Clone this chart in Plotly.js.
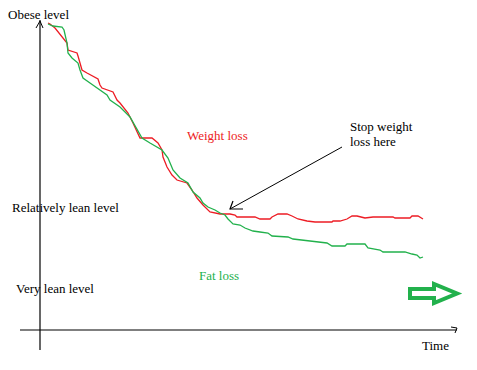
<!DOCTYPE html>
<html>
<head>
<meta charset="utf-8">
<script src="https://cdn.plot.ly/plotly-3.0.1.min.js"></script>
<style>html,body{margin:0;padding:0;background:#fff}#chart{width:477px;height:370px}</style>
</head>
<body>
<div id="chart"></div>
<script>
// Time (arbitrary units) and body level (arbitrary units above time axis)
const weightTime = [8,10,15,22,27,28,37,38,40,42,47,58,60,62,73,75,77,80,88,93,100,112,118,122,123,127,132,137,147,152,157,163,170,180,190,195,197,215,220,230,232,238,247,252,258,267,275,292,293,300,307,312,317,325,333,353,355,370,372,378,383];
const weightLevel = [307,306,302,293,287,280,277,274,267,260,257,251,245,242,238,233,230,227,217,207,192,192,187,180,173,163,155,150,147,140,132,125,118,116,116,115,113,113,111,111,113,116,116,114,111,109,108,108,109,109,111,114,114,112,113,113,112,112,114,114,111];
const fatTime = [8,13,22,24,27,28,32,38,40,43,50,60,67,70,80,90,97,102,110,122,128,133,140,148,153,160,163,168,175,180,185,188,193,200,205,213,220,228,232,248,253,273,287,292,305,307,325,328,340,343,365,372,377,380,383];
const fatLevel = [306,304,303,300,287,277,272,267,260,252,247,240,235,230,223,213,200,192,187,180,172,160,152,147,138,132,127,123,120,117,115,111,106,105,102,99,98,97,94,93,91,89,87,84,84,86,86,82,80,78,78,76,75,72,73];
const levelLabels = ["Obese level","Relatively lean level","Very lean level"];

const RED = "#ed1c24", GREEN = "#22b14c";
const serif = "Liberation Serif, Times New Roman, serif";

const traces = [
  {x: weightTime, y: weightLevel, mode: "lines", line: {color: RED, width: 1.3}, hoverinfo: "skip"},
  {x: fatTime, y: fatLevel, mode: "lines", line: {color: GREEN, width: 1.3}, hoverinfo: "skip"}
];

function txt(x, y, text, color) {
  return {x: x, y: y, xref: "x", yref: "y", text: text, showarrow: false,
          xanchor: "left", yanchor: "middle", font: {family: serif, size: 13, color: color || "#000"}};
}

const layout = {
  width: 477, height: 370,
  margin: {l: 0, r: 0, t: 0, b: 0},
  paper_bgcolor: "#fff", plot_bgcolor: "#fff",
  showlegend: false,
  xaxis: {range: [-40, 437], visible: false, fixedrange: true},
  yaxis: {range: [-40, 330], visible: false, fixedrange: true},
  shapes: [
    // axes
    {type: "line", xref: "x", yref: "y", x0: 0, y0: -20, x1: 0, y1: 310, line: {color: "#000", width: 1.2}},
    {type: "line", xref: "x", yref: "y", x0: -20, y0: 0, x1: 417, y1: 0, line: {color: "#000", width: 1.2}},
    {type: "path", xref: "x", yref: "y", path: "M -4,302 L 0,309 L 3,302", line: {color: "#000", width: 1}},
    {type: "path", xref: "x", yref: "y", path: "M 411,3 L 417,2 L 415,-3", line: {color: "#000", width: 1}},
    // pointer arrow
    {type: "line", xref: "x", yref: "y", x0: 302, y0: 183, x1: 190, y1: 121, line: {color: "#000", width: 1}},
    {type: "path", xref: "x", yref: "y", path: "M 193,129 L 190,121 L 203,121", line: {color: "#000", width: 1.2}},
    // hollow green arrow
    {type: "path", xref: "x", yref: "y", path: "M 370,41 L 394,41 L 394,46 L 417,36.5 L 394,27 L 394,32 L 370,32 Z",
     line: {color: GREEN, width: 4}, fillcolor: "#fff"}
  ],
  annotations: [
    txt(-34, 316, levelLabels[0]),
    txt(-30, 123, levelLabels[1]),
    txt(-26, 42, levelLabels[2]),
    txt(380, -15, "Time"),
    txt(145, 195, "Weight loss", RED),
    txt(157, 55, "Fat loss", GREEN),
    txt(308, 204, "Stop weight"),
    txt(308, 189, "loss here")
  ]
};

Plotly.newPlot("chart", traces, layout, {staticPlot: true, displayModeBar: false});
</script>
</body>
</html>
